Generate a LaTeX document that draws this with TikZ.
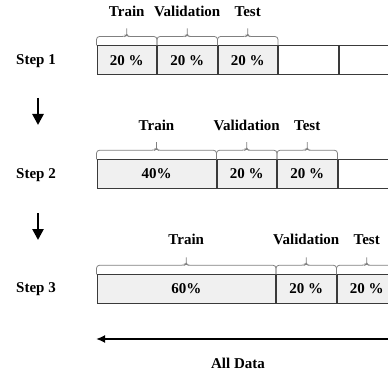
\documentclass[tikz,border=0pt]{standalone}
\usepackage{fontspec}
\setmainfont{Liberation Serif}
\usetikzlibrary{positioning, arrows.meta}
\definecolor{cellgray}{HTML}{F0F0F0}
\definecolor{bracegray}{HTML}{808080}
\definecolor{linegray}{HTML}{3A3A3A}
% brace over the top of one cell
\newcommand{\cellbrace}[1]{%
  \draw[brace] (#1.north west) [rounded corners=3pt] -- ([yshift=9pt]#1.north west)
    -- ([xshift=-2pt, yshift=9pt]#1.north) [rounded corners=1.5pt] -- ([yshift=10pt]#1.north)
    [sharp corners] -- ([yshift=17pt]#1.north) [rounded corners=1.5pt] -- ([yshift=10pt]#1.north)
    -- ([xshift=2pt, yshift=9pt]#1.north) [rounded corners=3pt] -- ([yshift=9pt]#1.north east)
    -- (#1.north east);}

\begin{document}
\begin{tikzpicture}[x=1pt, y=-1pt,
    font=\fontsize{15}{17}\selectfont\bfseries,
    cell/.style={draw=linegray, fill=cellgray, line width=1pt, minimum height=28.5pt, inner sep=0pt},
    blank/.style={cell, fill=white},
    brace/.style={draw=bracegray, line width=0.8pt},
    lbl/.style={inner sep=2pt},
    down/.style={line width=2.6pt, -{Triangle[length=11pt, width=11pt]}},
    span/.style={line width=2pt, -{Latex[length=9pt, width=8pt]}}]
  \clip (0,0) rectangle (388,377);

  % step 1
  \node (st1) at (36,61) {Step 1};
  \node[cell, minimum width=59.5pt] (s1a) at (126.75,60.25) {20 \%};
  \node[cell, minimum width=59.5pt, right=0pt of s1a] (s1b) {20 \%};
  \node[cell, minimum width=59.5pt, right=0pt of s1b] (s1c) {20 \%};
  \node[blank, minimum width=59.5pt, right=0pt of s1c] (s1d) {};
  \node[blank, minimum width=59.5pt, right=0pt of s1d] (s1e) {};
  \cellbrace{s1a}
  \cellbrace{s1b}
  \cellbrace{s1c}
  \node[lbl, above=27pt of s1a] (l1a) {Train};
  \node[lbl, above=27pt of s1b] (l1b) {Validation};
  \node[lbl, above=27pt of s1c] (l1c) {Test};

  \coordinate (a1top) at (38,98);
  \coordinate (a1end) at (38,125);
  \draw[down] (a1top) -- (a1end);

  % step 2
  \node (st2) at (36,175) {Step 2};
  \node[cell, minimum width=119pt] (s2a) at (156.5,174) {40\%};
  \node[cell, minimum width=59.5pt, right=0pt of s2a] (s2b) {20 \%};
  \node[cell, minimum width=59.5pt, right=0pt of s2b] (s2c) {20 \%};
  \node[blank, minimum width=59.5pt, right=0pt of s2c] (s2d) {};
  \cellbrace{s2a}
  \cellbrace{s2b}
  \cellbrace{s2c}
  \node[lbl, above=26pt of s2a] (l2a) {Train};
  \node[lbl, above=26pt of s2b] (l2b) {Validation};
  \node[lbl, above=26pt of s2c] (l2c) {Test};

  \coordinate (a2top) at (38,213);
  \coordinate (a2end) at (38,240);
  \draw[down] (a2top) -- (a2end);

  % step 3
  \node (st3) at (36,289) {Step 3};
  \node[cell, minimum width=178.5pt] (s3a) at (186.25,289) {60\%};
  \node[cell, minimum width=59.5pt, right=0pt of s3a] (s3b) {20 \%};
  \node[cell, minimum width=59.5pt, right=0pt of s3b] (s3c) {20 \%};
  \cellbrace{s3a}
  \cellbrace{s3b}
  \cellbrace{s3c}
  \node[lbl, above=27pt of s3a] (l3a) {Train};
  \node[lbl, above=27pt of s3b] (l3b) {Validation};
  \node[lbl, above=27pt of s3c] (l3c) {Test};

  % all data
  \coordinate (dright) at (400,339);
  \coordinate (dleft) at (96,339);
  \draw[span] (dright) -- (dleft);
  \node (all) at (238,363) {All Data};
\end{tikzpicture}
\end{document}
